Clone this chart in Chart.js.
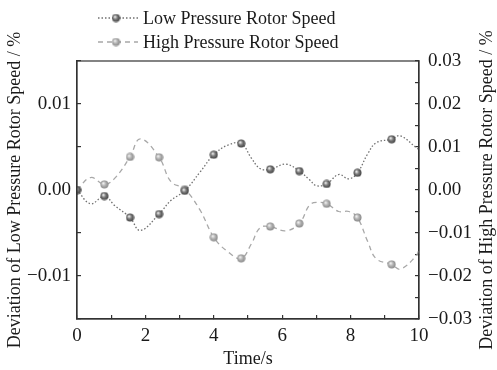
<!DOCTYPE html>
<html>
<head>
<meta charset="utf-8">
<script src="https://cdn.jsdelivr.net/npm/chart.js@4.4.0/dist/chart.umd.min.js"></script>
<style>
  html, body { margin: 0; padding: 0; background: #fff; }
  #wrap { width: 497px; height: 370px; }
</style>
</head>
<body>
<div id="wrap"><canvas id="rotorChart" width="497" height="370"></canvas></div>
<script>
// time samples (s)
const times = [0, 0.4, 0.8, 1.1, 1.55, 1.85, 2.4, 2.75, 3.15, 3.6, 4.0, 4.4, 4.8, 5.1, 5.35, 5.65, 6.1, 6.5, 6.8, 7.0, 7.3, 7.65, 7.95, 8.2, 8.5, 8.75, 9.2, 9.45, 9.9, 10];
// deviation of low pressure rotor speed, % (left axis)
const lowSpeed = [0, -0.0016, -0.0007, -0.0018, -0.0032, -0.0047, -0.0028, -0.0012, -0.0001, 0.0021, 0.0041, 0.0052, 0.0054, 0.0037, 0.0025, 0.0024, 0.003, 0.0022, 0.0012, 0.0005, 0.0007, 0.0018, 0.0013, 0.002, 0.0042, 0.0055, 0.0059, 0.0063, 0.005, 0.0047];
// deviation of high pressure rotor speed, % (right axis)
const highSpeed = [0, 0.0029, 0.0013, 0.0027, 0.0077, 0.0119, 0.0076, 0.0019, 0.0002, -0.0047, -0.011, -0.0143, -0.0159, -0.0125, -0.0088, -0.0085, -0.0095, -0.0078, -0.0035, -0.0029, -0.0032, -0.005, -0.005, -0.0064, -0.012, -0.016, -0.0173, -0.0184, -0.0155, -0.014];
// samples that carry a ball marker
const markerTimes = [0, 0.8, 1.55, 2.4, 3.15, 4.0, 4.8, 5.65, 6.5, 7.3, 8.2, 9.2];

const seriesNames = ['Low Pressure Rotor Speed', 'High Pressure Rotor Speed'];
const xTickLabels = [0, 2, 4, 6, 8, 10];
const leftTickLabels = [-0.01, 0, 0.01];
const rightTickLabels = [-0.03, -0.02, -0.01, 0, 0.01, 0.02, 0.03];

const xTitle = 'Time/s';
const leftTitle = 'Deviation of Low Pressure Rotor Speed / %';
const rightTitle = 'Deviation of High Pressure Rotor Speed / %';

const serif = '"Liberation Serif", "Times New Roman", serif';
const axisColor = '#333';
const textColor = '#1a1a1a';

function makeBall(base, dark) {
  const c = document.createElement('canvas');
  c.width = 9; c.height = 9;
  const g = c.getContext('2d');
  const grad = g.createRadialGradient(3.3, 3.2, 0.3, 4.5, 4.5, 4.4);
  grad.addColorStop(0, '#f2f2f2');
  grad.addColorStop(0.45, base);
  grad.addColorStop(1, dark);
  g.fillStyle = grad;
  g.beginPath();
  g.arc(4.5, 4.5, 4, 0, Math.PI * 2);
  g.fill();
  return c;
}
const lowBall = makeBall('#7a7a7a', '#3a3a3a');
const highBall = makeBall('#b4b4b4', '#808080');

const isMarker = ctx => markerTimes.includes(times[ctx.dataIndex]);
const fmt = v => {
  const s = Math.abs(v).toFixed(2);
  return v < -1e-9 ? '\u2212' + s : s;
};
const inList = (list, v) => list.some(t => Math.abs(t - v) < 1e-7);

const decorations = {
  id: 'decorations',
  afterDraw(chart) {
    const {ctx, chartArea} = chart;
    ctx.save();
    ctx.strokeStyle = axisColor;
    ctx.lineWidth = 1.2;
    ctx.strokeRect(chartArea.left, chartArea.top, chartArea.right - chartArea.left, chartArea.bottom - chartArea.top);

    ctx.font = '18px ' + serif;
    ctx.textBaseline = 'middle';
    ctx.fillStyle = textColor;
    chart.data.datasets.forEach((ds, i) => {
      const y = 18 + i * 24;
      ctx.setLineDash(ds.borderDash);
      ctx.strokeStyle = ds.borderColor;
      ctx.lineWidth = ds.borderWidth;
      ctx.beginPath();
      ctx.moveTo(98, y);
      ctx.lineTo(138, y);
      ctx.stroke();
      ctx.setLineDash([]);
      ctx.drawImage(ds.pointStyle, 116 - 4.5, y - 4.5);
      ctx.fillText(ds.label, 143, y + 1);
    });

    ctx.translate(487, (chartArea.top + chartArea.bottom) / 2);
    ctx.rotate(-Math.PI / 2);
    ctx.textAlign = 'center';
    ctx.fillText(rightTitle, 0, 0);
    ctx.restore();
  }
};

const tickFont = {family: serif, size: 19};
const titleFont = {family: serif, size: 18};

new Chart(document.getElementById('rotorChart'), {
  type: 'line',
  data: {
    datasets: [
      {
        label: seriesNames[0],
        data: times.map((t, i) => ({x: t, y: lowSpeed[i]})),
        yAxisID: 'yLow',
        borderColor: '#707070',
        borderWidth: 1.3,
        borderDash: [1.5, 2],
        tension: 0.4,
        pointStyle: lowBall,
        pointRadius: ctx => isMarker(ctx) ? 4 : 0,
        pointHoverRadius: 0
      },
      {
        label: seriesNames[1],
        data: times.map((t, i) => ({x: t, y: highSpeed[i]})),
        yAxisID: 'yHigh',
        borderColor: '#a8a8a8',
        borderWidth: 1.3,
        borderDash: [5, 4],
        tension: 0.4,
        pointStyle: highBall,
        pointRadius: ctx => isMarker(ctx) ? 4 : 0,
        pointHoverRadius: 0
      }
    ]
  },
  options: {
    responsive: false,
    animation: false,
    devicePixelRatio: 1,
    layout: {padding: {top: 61, left: 0, right: 0, bottom: 0}},
    plugins: {legend: {display: false}, tooltip: {enabled: false}},
    scales: {
      x: {
        type: 'linear',
        min: 0, max: 10,
        ticks: {
          stepSize: 1, autoSkip: false, maxRotation: 0, padding: 10,
          color: textColor, font: tickFont,
          callback: v => inList(xTickLabels, v) ? String(v) : ''
        },
        grid: {drawOnChartArea: false, tickLength: -4, color: axisColor, lineWidth: 1.2},
        border: {color: axisColor, width: 1.2},
        title: {display: true, text: xTitle, color: textColor, font: titleFont, padding: {top: 0, bottom: 0}},
        afterFit: s => { s.height = 51; }
      },
      yLow: {
        position: 'left',
        min: -0.015, max: 0.015,
        ticks: {
          stepSize: 0.005, autoSkip: false, padding: 10,
          color: textColor, font: tickFont,
          callback: v => inList(leftTickLabels, v) ? fmt(v) : ''
        },
        grid: {drawOnChartArea: false, tickLength: -4, color: axisColor, lineWidth: 1.2},
        border: {color: axisColor, width: 1.2},
        title: {display: true, text: leftTitle, color: textColor, font: titleFont, padding: {top: 4, bottom: 0}},
        afterFit: s => { s.width = 77; }
      },
      yHigh: {
        position: 'right',
        min: -0.03, max: 0.03,
        ticks: {
          stepSize: 0.005, autoSkip: false, padding: 13,
          color: textColor, font: tickFont,
          callback: v => inList(rightTickLabels, v) ? fmt(v) : ''
        },
        grid: {drawOnChartArea: false, tickLength: -4, color: axisColor, lineWidth: 1.2},
        border: {color: axisColor, width: 1.2},
        afterFit: s => { s.width = 78; }
      }
    }
  },
  plugins: [decorations]
});
</script>
</body>
</html>
